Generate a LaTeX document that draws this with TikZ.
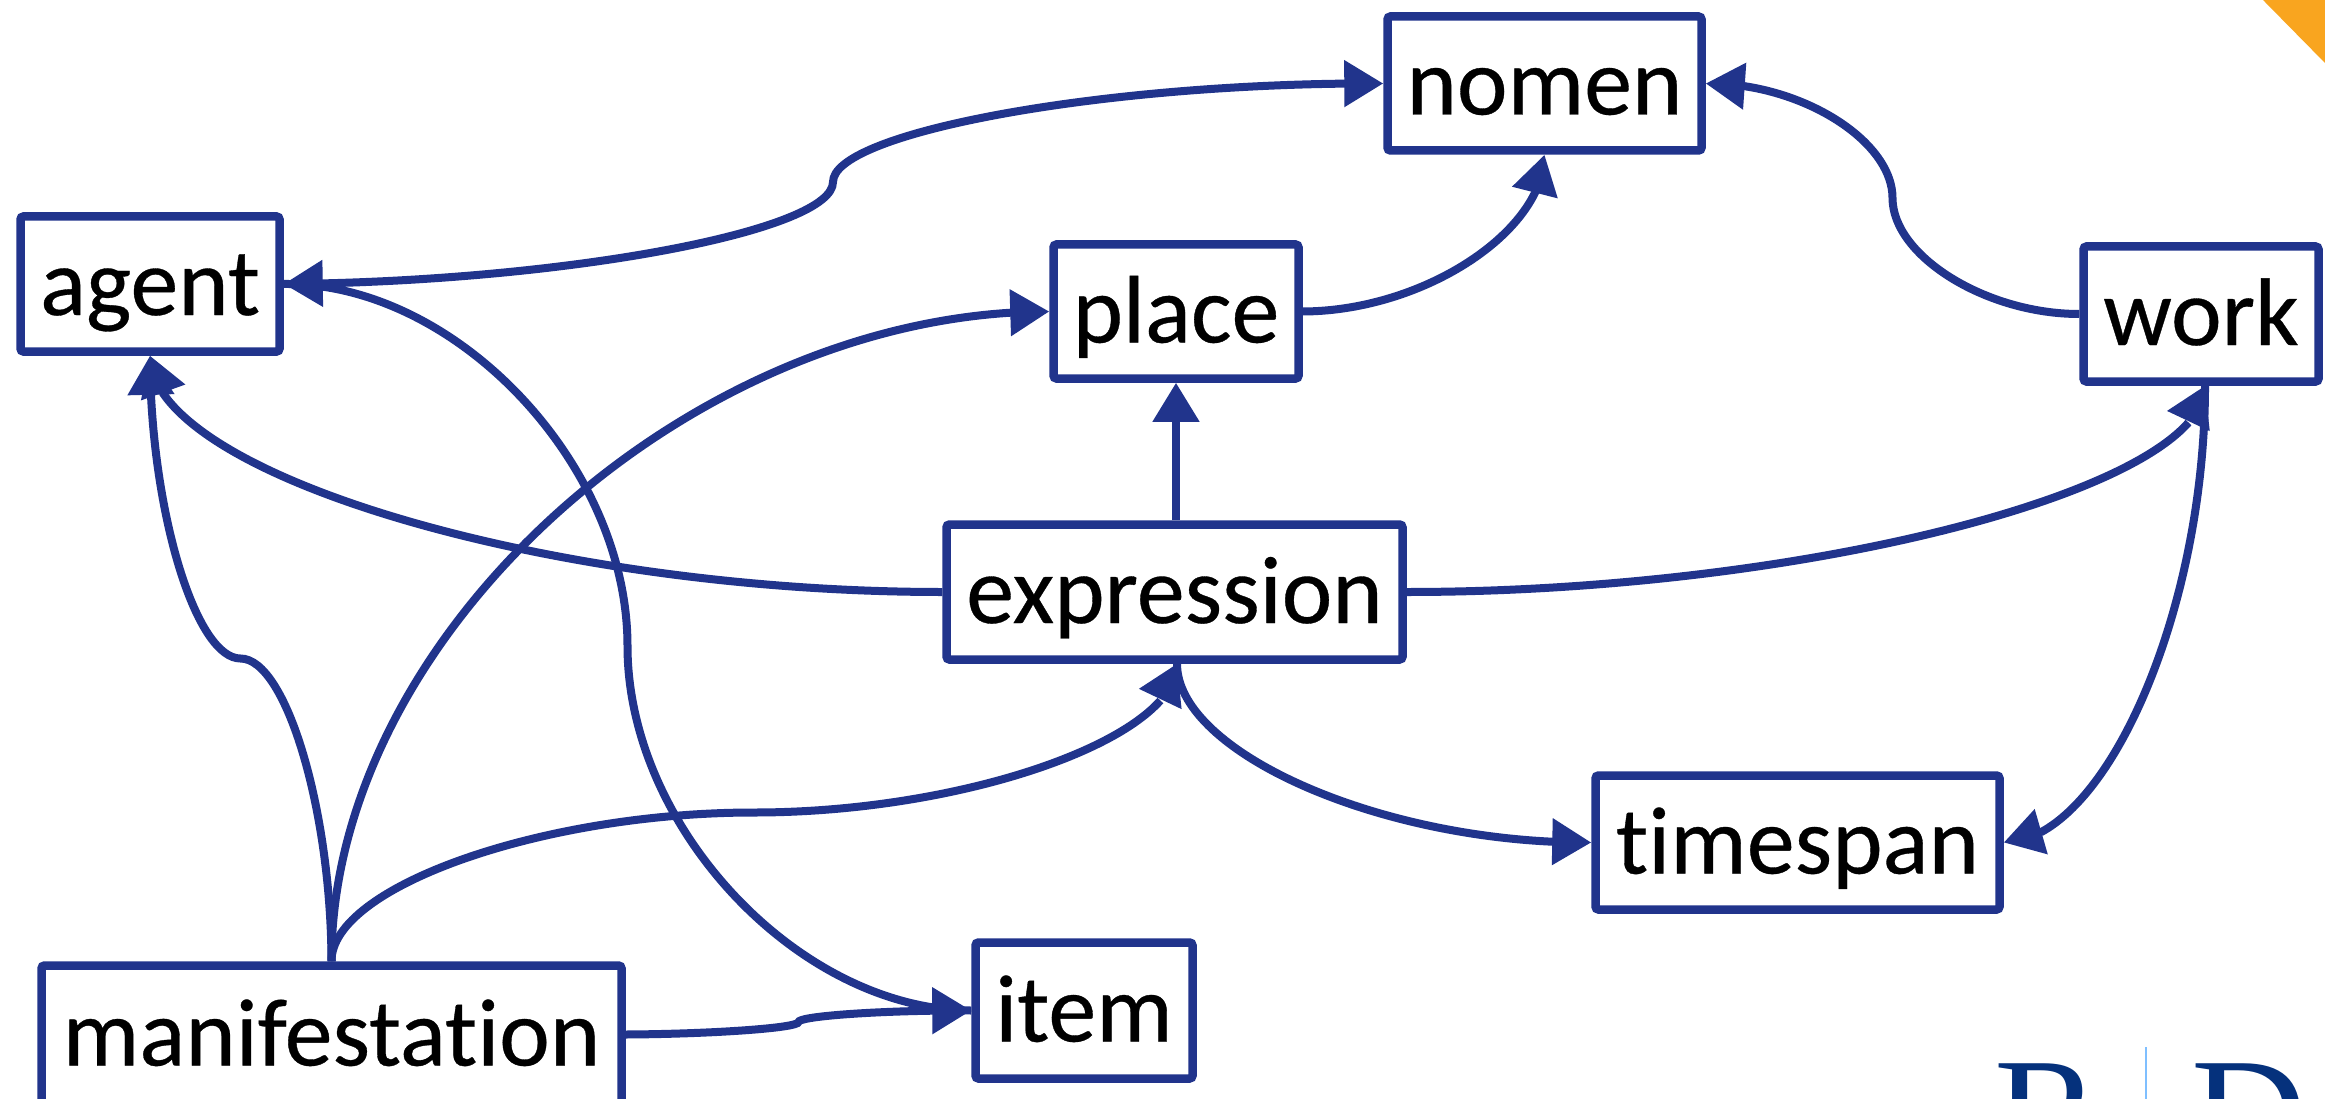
\documentclass[tikz,border=0pt]{standalone}
\usepackage{fontspec}
\setmainfont{Carlito}[Ligatures=NoCommon,FakeBold=0.35]
\newfontfamily\logofont{Liberation Serif}
\usetikzlibrary{arrows.meta,bending}
\definecolor{linkblue}{HTML}{21348C}
\definecolor{logonavy}{HTML}{05317C}
\definecolor{logoline}{HTML}{7FBFFF}
\definecolor{cornerorange}{HTML}{F9A51F}
\tikzset{
  entity/.style={draw=linkblue,line width=8.5pt,fill=white,rounded corners=3pt,inner sep=0pt,
    text=black,font=\fontsize{96}{100}\selectfont,text height=70pt,text depth=8pt},
  link/.style={draw=linkblue,line width=8pt},
  head/.style={-{Triangle[length=39pt,width=45pt]}},
  heads/.style={{Triangle[length=39pt,width=45pt]}-{Triangle[length=39pt,width=45pt]}},
}
\begin{document}
\begin{tikzpicture}[x=1pt,y=-1pt]
\useasboundingbox (0,0) rectangle (2325,1099);
\clip (0,0) rectangle (2325,1099);
\fill[white] (0,0) rectangle (2325,1099);
\fill[cornerorange] (2263,0) -- (2325,0) -- (2325,63) -- cycle;
% logo
\node[anchor=base west,inner sep=0pt,text=logonavy,font=\logofont\fontsize{160}{160}\selectfont] (logoR) at (1994,1168) {R};
\node[anchor=base west,inner sep=0pt,text=logonavy,font=\logofont\fontsize{160}{160}\selectfont] (logoD) at (2191,1168) {D};
\draw[logoline,line width=2pt] (2146,1047) -- (2146,1099);
% entities
\node[entity,minimum width=314pt,minimum height=134pt] (nomen) at (1544.5,83.5) {nomen};
\node[entity,minimum width=259pt,minimum height=135pt] (agent) at (150,284) {agent};
\node[entity,minimum width=245pt,minimum height=134pt] (place) at (1176,311.5) {place};
\node[entity,minimum width=235pt,minimum height=135pt] (work) at (2201,314) {work};
\node[entity,minimum width=456pt,minimum height=135pt] (expression) at (1174.5,592) {expression};
\node[entity,minimum width=404pt,minimum height=134pt] (timespan) at (1797.5,842.5) {timespan};
\node[entity,minimum width=217pt,minimum height=136pt] (item) at (1084,1010.5) {item};
\node[entity,minimum width=580pt,minimum height=138pt] (manifestation) at (331.5,1034.5) {manifestation};
\coordinate (worktip) at ([xshift=4pt]work.south);
\coordinate (exptip) at ([xshift=2.5pt]expression.south);
% connectors
\draw[link,heads] (agent.east) .. controls (558,282) and (833,232) .. (833,182)
   .. controls (833,132) and (1108,82) .. (nomen.west);
\draw[link,head] (place.east) .. controls (1423,311) and (1544,232) .. (nomen.south);
\draw[link,head] (work.west) .. controls (1986,314) and (1892.5,256) .. (1892.5,198)
   .. controls (1892.5,140) and (1799,82) .. (nomen.east);
\draw[link,head] (place.south |- expression.north) -- (place.south);
\draw[link,head] (expression.west) .. controls (546.5,592) and (150,473.5) .. (agent.south);
\draw[link,head] (expression.east) .. controls (1805.5,592) and (2205,488.5) .. (worktip);
\draw[link,head] (manifestation.north) .. controls (331,810) and (286,658.5) .. (240.5,658.5)
   .. controls (195,658.5) and (150,507) .. (agent.south);
\draw[link,head] (manifestation.north) .. controls (331,636.5) and (690.5,311) .. (place.west);
\draw[link,head] (manifestation.north) .. controls (331,887) and (542.5,812.5) .. (754,812.5)
   .. controls (965.5,812.5) and (1177,738) .. (exptip);
\draw[link] (agent.east) .. controls (455,282) and (627.5,464) .. (627.5,646)
   .. controls (627.5,828) and (800,1010) .. (item.west);
\draw[link,head] (manifestation.east) .. controls (712,1034) and (798.5,1028) .. (798.5,1022)
   .. controls (798.5,1016) and (885,1010) .. (item.west);
\draw[link,head] (exptip) .. controls (1177,753) and (1384,844) .. (timespan.west);
\draw[link,head] (worktip) .. controls (2205,613.5) and (2104,842) .. (timespan.east);
\end{tikzpicture}
\end{document}
